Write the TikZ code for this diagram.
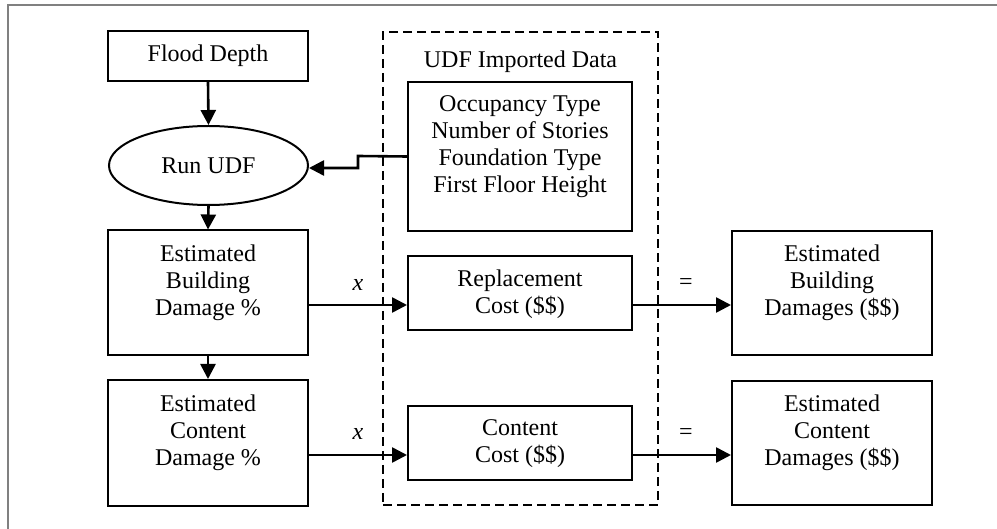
\documentclass[tikz,border=0pt]{standalone}
\usepackage{fontspec}
\setmainfont{Liberation Serif}
\usetikzlibrary{shapes.geometric,arrows.meta}
\definecolor{framegray}{RGB}{128,128,128}
\begin{document}
\begin{tikzpicture}[x=1pt,y=-1pt,
  every node/.style={font=\fontsize{24}{27}\selectfont},
  box/.style={draw,line width=2pt,rectangle,inner sep=0pt},
  txt/.style={inner sep=0pt,align=center},
  arr/.style={line width=2.6pt,-{Triangle[length=15pt,width=15pt]}},
  dbox/.style={draw,line width=2.4pt,dash pattern=on 9pt off 5pt,rectangle,inner sep=0pt}]
\useasboundingbox (0,0) rectangle (997,529);
% partial frame
\draw[framegray,line width=1.4pt] (8,529) -- (8,5) -- (997,5);
% left column
\node[box,minimum width=200pt,minimum height=50pt] (fd) at (208,56) {Flood Depth};
\node[draw,line width=2pt,ellipse,inner sep=0pt,minimum width=199pt,minimum height=79pt] (run) at (208.5,165.5) {Run UDF};
\node[box,minimum width=200pt,minimum height=125pt] (ebd) at (208,293) {};
\node[txt] (ebdt) at (208,283) {Estimated\\Building\\Damage \%};
\node[box,minimum width=200pt,minimum height=126pt] (ecd) at (208,443) {};
\node[txt] (ecdt) at (208,433) {Estimated\\Content\\Damage \%};
% dashed group
\node[dbox,minimum width=275pt,minimum height=473pt] (grp) at (520.5,268.5) {};
\node[txt] (grpt) at (520.5,62) {UDF Imported Data};
\node[box,minimum width=224pt,minimum height=149pt] (occ) at (520,156.5) {};
\node[txt] (occt) at (520,147) {Occupancy Type\\Number of Stories\\Foundation Type\\First Floor Height};
\node[box,minimum width=224pt,minimum height=74pt] (rc) at (520,293) {};
\node[txt] (rct) at (520,294) {Replacement\\Cost (\$\$)};
\node[box,minimum width=224pt,minimum height=74pt] (cc) at (520,443) {};
\node[txt] (cct) at (520,444) {Content\\Cost (\$\$)};
% right column
\node[box,minimum width=200pt,minimum height=124pt] (ebdd) at (832,293) {};
\node[txt] (ebddt) at (832,283) {Estimated\\Building\\Damages (\$\$)};
\node[box,minimum width=200pt,minimum height=124pt] (ecdd) at (832,443) {};
\node[txt] (ecddt) at (832,433) {Estimated\\Content\\Damages (\$\$)};
% operator labels
\node[txt] (x1) at (358,285) {\textit{x}};
\node[txt] (x2) at (358,434) {\textit{x}};
\node[txt] (e1) at (686,284) {=};
\node[txt] (e2) at (686,434) {=};
% connectors
\draw[arr] (fd.south) -- (run.north);
\draw[arr] (run.south) -- (ebd.north);
\draw[arr] (ebd.south) -- (ecd.north);
\coordinate (k1) at (358,156);
\coordinate (k2) at (358,168);
\draw[arr] (occ.west) -- (k1) -- (k2) -- (k2 -| run.east);
\draw[arr] ([yshift=-12pt]ebd.east) -- ([yshift=-12pt]rc.west);
\draw[arr] ([yshift=-12pt]ecd.east) -- ([yshift=-12pt]cc.west);
\draw[arr] ([yshift=-12pt]rc.east) -- ([yshift=-12pt]ebdd.west);
\draw[arr] ([yshift=-12pt]cc.east) -- ([yshift=-12pt]ecdd.west);
\end{tikzpicture}
\end{document}
